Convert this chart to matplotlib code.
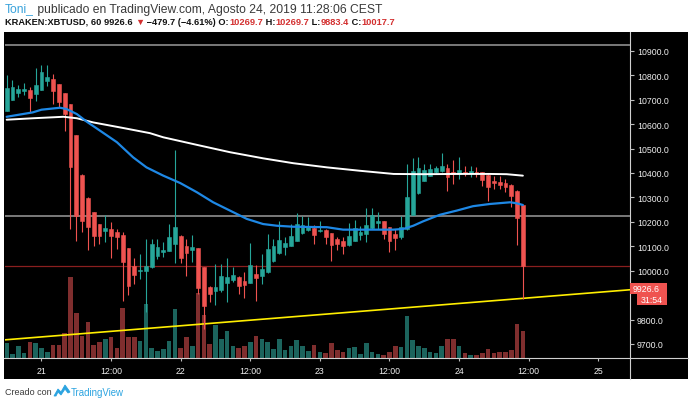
import matplotlib
matplotlib.use("Agg")
import matplotlib.pyplot as plt
from matplotlib.patches import Rectangle, Polygon
from matplotlib import font_manager

plt.rcParams["font.family"] = ["Liberation Sans", "DejaVu Sans"]
_names = {f.name for f in font_manager.fontManager.ttflist}
NARROW = ["Liberation Sans Narrow", "DejaVu Sans"] if "Liberation Sans Narrow" in _names else ["Liberation Sans", "DejaVu Sans"]

W, H = 690, 406

# ---------------- data (hourly candles, KRAKEN:XBTUSD, Aug 20 18:00 -> Aug 24 11:00) -------------
opens = [10655, 10700, 10727, 10734, 10741, 10723, 10740, 10776, 10785, 10764,
         10727, 10682, 10555, 10392, 10298, 10239, 10191, 10164, 10171, 10160,
         10146, 10092, 10021, 9999, 10000, 10014, 10062, 10078, 10082, 10109,
         10144, 10100, 10086, 10092, 10014, 9935, 9916, 9922, 9950, 9962,
         9973, 9958, 9950, 9987, 9977, 9993, 10039, 10071, 10096, 10103,
         10123, 10154, 10168, 10174, 10161, 10167, 10154, 10130, 10120, 10107,
         10123, 10148, 10150, 10174, 10195, 10202, 10178, 10150, 10139, 10170,
         10228, 10317, 10369, 10389, 10403, 10410, 10420, 10403, 10396, 10403,
         10401, 10403, 10403, 10392, 10367, 10365, 10359, 10352, 10328, 10270]
highs = [10801, 10781, 10760, 10768, 10751, 10828, 10842, 10842, 10805, 10766,
         10729, 10684, 10557, 10394, 10300, 10241, 10193, 10228, 10198, 10171,
         10160, 10094, 10051, 10068, 10130, 10130, 10130, 10119, 10191, 10496,
         10146, 10130, 10148, 10094, 10016, 9937, 10028, 10028, 10051, 10014,
         9980, 9993, 10114, 10024, 10068, 10150, 10130, 10202, 10139, 10191,
         10236, 10223, 10219, 10185, 10202, 10169, 10156, 10137, 10137, 10194,
         10209, 10182, 10255, 10255, 10239, 10204, 10180, 10171, 10223, 10437,
         10460, 10464, 10437, 10437, 10430, 10482, 10437, 10455, 10464, 10427,
         10427, 10423, 10405, 10394, 10389, 10386, 10375, 10354, 10330, 10270]
lows = [10652, 10698, 10710, 10721, 10648, 10696, 10738, 10757, 10682, 10669,
        10573, 10171, 10123, 10157, 10086, 10100, 10109, 10116, 10051, 10089,
        9877, 9901, 9946, 9966, 9830, 10012, 10048, 10055, 10080, 10032,
        10032, 9980, 10037, 9905, 9760, 9871, 9860, 9912, 9873, 9955,
        9905, 9887, 9948, 9877, 9946, 9990, 10037, 10069, 10064, 10101,
        10121, 10152, 10164, 10109, 10157, 10109, 10041, 10086, 10068, 10103,
        10121, 10127, 10119, 10172, 10171, 10130, 10075, 10085, 10130, 10168,
        10226, 10315, 10367, 10387, 10401, 10403, 10325, 10355, 10375, 10386,
        10382, 10385, 10348, 10287, 10335, 10335, 10324, 10260, 10105, 9883]
closes = [10747, 10753, 10744, 10744, 10706, 10760, 10812, 10794, 10737, 10689,
          10641, 10423, 10225, 10205, 10178, 10143, 10141, 10175, 10143, 10137,
          10034, 9939, 9983, 10004, 10021, 10110, 10096, 10086, 10137, 10178,
          10052, 10073, 10096, 9928, 9857, 9903, 9932, 9977, 9973, 9982,
          9939, 9942, 10025, 9970, 10007, 10089, 10100, 10126, 10112, 10144,
          10191, 10187, 10180, 10148, 10167, 10137, 10107, 10109, 10103, 10141,
          10174, 10160, 10187, 10228, 10202, 10150, 10123, 10133, 10178, 10300,
          10410, 10419, 10412, 10416, 10420, 10430, 10385, 10396, 10412, 10399,
          10407, 10399, 10373, 10344, 10359, 10352, 10341, 10305, 10216, 10018]
volumes = [150, 37, 120, 43, 157, 150, 93, 53, 127, 127,
           243, 803, 450, 217, 360, 127, 157, 183, 203, 93,
           493, 203, 203, 170, 537, 93, 67, 90, 167, 487,
           93, 210, 120, 643, 427, 137, 327, 183, 270, 120,
           100, 120, 160, 220, 187, 160, 83, 183, 77, 120,
           177, 117, 67, 127, 60, 43, 143, 77, 53, 93,
           103, 37, 143, 60, 37, 23, 53, 120, 110, 417,
           177, 120, 100, 53, 43, 120, 183, 190, 120, 43,
           30, 30, 43, 87, 43, 53, 53, 77, 333, 267]

ma_fast_idx = [0, 4.5, 6, 9.2, 10.3, 12.1, 13.8, 16.1, 19, 21.8, 24.1, 27, 29.9, 32.8,
               35.6, 38.5, 41.4, 44.2, 46.6, 49.4, 55.2, 58, 60.9, 66.7, 68.4, 70.1,
               71.8, 74.7, 77.6, 80.4, 83.3, 86.8, 87.9, 89]
ma_fast_val = [10630, 10648, 10659, 10667, 10662, 10641, 10610, 10573, 10526, 10464,
               10423, 10389, 10359, 10321, 10280, 10246, 10212, 10191, 10184, 10180,
               10178, 10168, 10168, 10168, 10171, 10184, 10202, 10229, 10246, 10264,
               10273, 10280, 10276, 10269]
ma_slow_idx = [0, 4.6, 9.8, 12.1, 14.9, 20.1, 24.7, 27, 32.8, 38.5, 44.2, 49.4,
               55.2, 60.9, 66.7, 71.8, 77.6, 83.3, 86.2, 89]
ma_slow_val = [10618, 10624, 10630, 10624, 10607, 10584, 10563, 10546, 10515, 10485,
               10460, 10440, 10423, 10409, 10396, 10395, 10396, 10396, 10395, 10389]

trend_idx = [-0.3, 107.5]
trend_val = [9717, 9922]
hlines_gray = [10922.6, 10225]
close_line = 10018
last_price = 9926.6
timer_text = "31:54"

price_ticks = [9700, 9800, 10000, 10100, 10200, 10300, 10400, 10500, 10600, 10700, 10800, 10900]
time_tick_idx = [6, 18, 30, 42, 54, 66, 78, 90, 102]
time_tick_labels = ["21", "12:00", "22", "12:00", "23", "12:00", "24", "12:00", "25"]

# ---------------- styling ----------------
GREEN = "#26a69a"
RED = "#ef5350"
VGREEN = "#1c645d"
VRED = "#7f2e2e"
AXTXT = "#eeeeee"

fig = plt.figure(figsize=(W / 100, H / 100), dpi=100)
fig.patch.set_facecolor("white")

def fx(px):
    return px / W

def fy(py):
    return 1 - py / H

# black panel (chart + axes)
fig.patches.append(Rectangle((fx(4), fy(380)), (688 - 4) / W, (380 - 33) / H,
                             transform=fig.transFigure, facecolor="black", edgecolor="none", zorder=-5))

L, R, T, B = 5, 630, 33, 358.5
ax = fig.add_axes([fx(L), fy(B), (R - L) / W, (B - T) / H])
vax = ax.twinx()
ax.set_zorder(2)
vax.set_zorder(1)
ax.patch.set_visible(False)
vax.patch.set_facecolor("black")

n = len(opens)
xs = list(range(n))

# volume
vcols = [VGREEN if c >= o else VRED for o, c in zip(opens, closes)]
vax.bar(xs, volumes, width=0.8, color=vcols, linewidth=0)
vax.set_ylim(0, 3255)
vax.set_yticks([])
for s in vax.spines.values():
    s.set_visible(False)

# horizontal lines and trend line
for v in hlines_gray:
    ax.axhline(v, color="#9a9a9a", lw=1.1, zorder=1)
ax.axhline(close_line, color="#8a1f1f", lw=0.9, zorder=1)
ax.plot(trend_idx, trend_val, color="#ffee00", lw=1.2, zorder=2)

# candles
ccols = [GREEN if c >= o else RED for o, c in zip(opens, closes)]
ax.vlines(xs, lows, highs, colors=ccols, lw=0.8, zorder=3)
bottoms = [min(o, c) for o, c in zip(opens, closes)]
heights = [abs(c - o) for o, c in zip(opens, closes)]
ax.bar(xs, heights, bottom=bottoms, width=0.68, color=ccols, edgecolor=ccols, linewidth=0.4, zorder=4)

# moving averages
ax.plot(ma_slow_idx, ma_slow_val, color="white", lw=1.4, zorder=5, solid_capstyle="round")
ax.plot(ma_fast_idx, ma_fast_val, color="#1e88e5", lw=1.6, zorder=6, solid_capstyle="round")

ax.set_xlim(-0.29, 107.47)
ax.set_ylim(9644.7, 10977)

for s in ax.spines.values():
    s.set_visible(False)
ax.yaxis.tick_right()
ax.set_yticks(price_ticks)
ax.set_yticklabels([f"{v:.1f}" for v in price_ticks])
ax.tick_params(axis="y", colors="#bdbdbd", labelcolor=AXTXT, length=3, width=0.8,
               labelsize=6.3, pad=2, direction="out")
ax.set_xticks(time_tick_idx)
ax.set_xticklabels(time_tick_labels)
ax.tick_params(axis="x", colors="#bdbdbd", labelcolor=AXTXT, length=2.5, width=0.8,
               labelsize=6.3, pad=3.5, direction="out")

# separators
fig.add_artist(plt.Line2D([fx(R), fx(R)], [fy(33), fy(380)], transform=fig.transFigure,
                          color="#d0d0d0", lw=0.8))
fig.add_artist(plt.Line2D([fx(4), fx(688)], [fy(B), fy(B)], transform=fig.transFigure,
                          color="#d0d0d0", lw=0.8))

# last price label + timer
fig.canvas.draw()
yl = ax.transData.transform((0, last_price))[1]
fig.patches.append(Rectangle((fx(630), (yl - 5.5) / H), 37 / W, 11 / H, transform=fig.transFigure,
                             facecolor=RED, edgecolor="none", zorder=10))
fig.text(fx(633), yl / H, f"{last_price:.1f}", color="white", fontsize=6.3, va="center", ha="left", zorder=11)
fig.patches.append(Rectangle((fx(637), (yl - 16.5) / H), 30 / W, 11 / H, transform=fig.transFigure,
                             facecolor=RED, edgecolor="none", zorder=10))
fig.text(fx(652), (yl - 11) / H, timer_text, color="white", fontsize=6.3, va="center", ha="center", zorder=11)

# ---------------- header / footer texts ----------------
renderer = fig.canvas.get_renderer()

def pieces_width(pieces, fs, fam):
    tot = 0
    for txt, col, wt in pieces:
        t = fig.text(0, 0, txt, fontsize=fs, fontweight=wt, family=fam)
        tot += t.get_window_extent(renderer=renderer).width
        t.remove()
    return tot

def draw_pieces(x, y, pieces, target_w=None, fs=7.5, fam=None):
    fam = fam or ["Liberation Sans", "DejaVu Sans"]
    if target_w is not None:
        w = pieces_width(pieces, fs, fam)
        fs = fs * target_w / w
    for txt, col, wt in pieces:
        t = fig.text(fx(x), fy(y), txt, color=col, fontsize=fs, fontweight=wt, family=fam,
                     va="center", ha="left")
        x += t.get_window_extent(renderer=renderer).width
    return x

DARK = "#3a3a3a"
VALRED = "#d32f2f"
hdr1 = [("Toni_", "#3aa3dc", "normal"),
        (" publicado en TradingView.com, Agosto 24, 2019 11:28:06 CEST", DARK, "normal")]
hdr2 = [("KRAKEN:XBTUSD, 60 9926.6 ", "#111111", "bold"), ("▼", VALRED, "bold"),
        (" \u2212479.7 (\u22124.61%) O:", "#111111", "bold"), ("10269.7", VALRED, "bold"),
        (" H:", "#111111", "bold"), ("10269.7", VALRED, "bold"),
        (" L:", "#111111", "bold"), ("9883.4", VALRED, "bold"),
        (" C:", "#111111", "bold"), ("10017.7", VALRED, "bold")]
draw_pieces(5, 9.5, hdr1, target_w=375)
draw_pieces(5, 22.5, hdr2, target_w=388, fam=NARROW)

draw_pieces(5, 393, [("Creado con", DARK, "normal")], target_w=46, fam=NARROW)
logo = [(54, 397), (58, 390), (61, 393), (65, 386), (70, 393), (68, 394), (65, 390),
        (61, 396), (58, 393), (56, 397)]
fig.patches.append(Polygon([(fx(a), fy(b)) for a, b in logo], closed=True, transform=fig.transFigure,
                           facecolor="#2aa3e0", edgecolor="#2aa3e0", lw=0.6))
draw_pieces(71, 393, [("TradingView", "#2aa3e0", "normal")], target_w=53, fam=NARROW)

fig.savefig("out.png", dpi=100, facecolor="white")
